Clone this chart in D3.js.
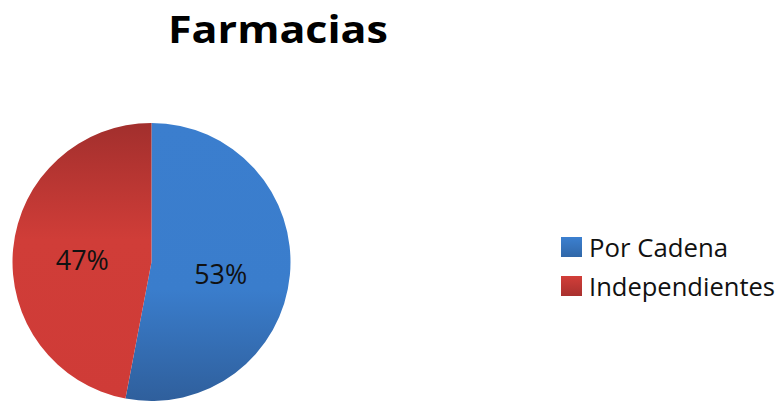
<!DOCTYPE html>
<html><head><meta charset="utf-8">
<script src="https://cdn.jsdelivr.net/npm/d3@7"></script>
<style>html,body{margin:0;padding:0;background:#fff;}svg{display:block;}</style>
</head><body>
<svg id="chart" width="782" height="406"></svg>
<script>
const title = "Farmacias";
const categories = ["Por Cadena", "Independientes"];
const values = [53, 47];
const colorsTop = ["#3B7ECE", "#A22F2D"];
const colorsMid = ["#3A7DCC", "#D03D38"];
const colorsBot = ["#2F5F9C", "#CF3B37"];

const svg = d3.select("#chart");
const cx = 151.5, cy = 262, R = 139;
const font = "'Open Sans', sans-serif";

const defs = svg.append("defs");
categories.forEach((c, i) => {
  const g = defs.append("linearGradient").attr("id", "grad" + i)
    .attr("gradientUnits", "userSpaceOnUse")
    .attr("x1", 0).attr("y1", -R).attr("x2", 0).attr("y2", R);
  g.append("stop").attr("offset", "0%").attr("stop-color", colorsTop[i]);
  g.append("stop").attr("offset", i === 0 ? "60%" : "42%").attr("stop-color", colorsMid[i]);
  g.append("stop").attr("offset", "100%").attr("stop-color", colorsBot[i]);
  const lgd = defs.append("linearGradient").attr("id", "lgrad" + i)
    .attr("x1", 0).attr("y1", 0).attr("x2", 0).attr("y2", 1);
  lgd.append("stop").attr("offset", "0%").attr("stop-color", i === 0 ? "#3C80D0" : "#D23E39");
  lgd.append("stop").attr("offset", "100%").attr("stop-color", i === 0 ? "#3067A8" : "#A8302E");
});

svg.append("text").attr("x", 168).attr("y", 43)
  .attr("font-family", font).attr("font-weight", "bold")
  .attr("font-size", 37).attr("fill", "#000")
  .attr("textLength", 220).attr("lengthAdjust", "spacingAndGlyphs")
  .text(title);

const pie = d3.pie().sort(null).value(d => d)(values);
const arc = d3.arc().innerRadius(0).outerRadius(R);
const g = svg.append("g").attr("transform", `translate(${cx},${cy})`);
g.selectAll("path").data(pie).join("path")
  .attr("d", arc)
  .attr("fill", (d, i) => `url(#grad${i})`);

const total = d3.sum(values);
const labelArc = d3.arc().innerRadius(R * 0.5).outerRadius(R * 0.5);
g.selectAll("text.lbl").data(pie).join("text").attr("class", "lbl")
  .attr("transform", d => { const [x, y] = labelArc.centroid(d); return `translate(${x},${y + 15})`; })
  .attr("text-anchor", "middle")
  .attr("font-family", font).attr("font-size", 28).attr("fill", "#111")
  .attr("textLength", 53).attr("lengthAdjust", "spacingAndGlyphs")
  .text(d => Math.round(d.data / total * 100) + "%");

const legendWidths = [139, 186];
const lg = svg.append("g").attr("transform", "translate(561,237)");
const items = lg.selectAll("g").data(categories).join("g")
  .attr("transform", (d, i) => `translate(0,${i * 39})`);
items.append("rect").attr("width", 21).attr("height", 20)
  .attr("fill", (d, i) => `url(#lgrad${i})`);
items.append("text").attr("x", 28).attr("y", 20)
  .attr("font-family", font).attr("font-size", 26).attr("fill", "#111")
  .attr("textLength", (d, i) => legendWidths[i]).attr("lengthAdjust", "spacingAndGlyphs")
  .text(d => d);
</script>
</body></html>
